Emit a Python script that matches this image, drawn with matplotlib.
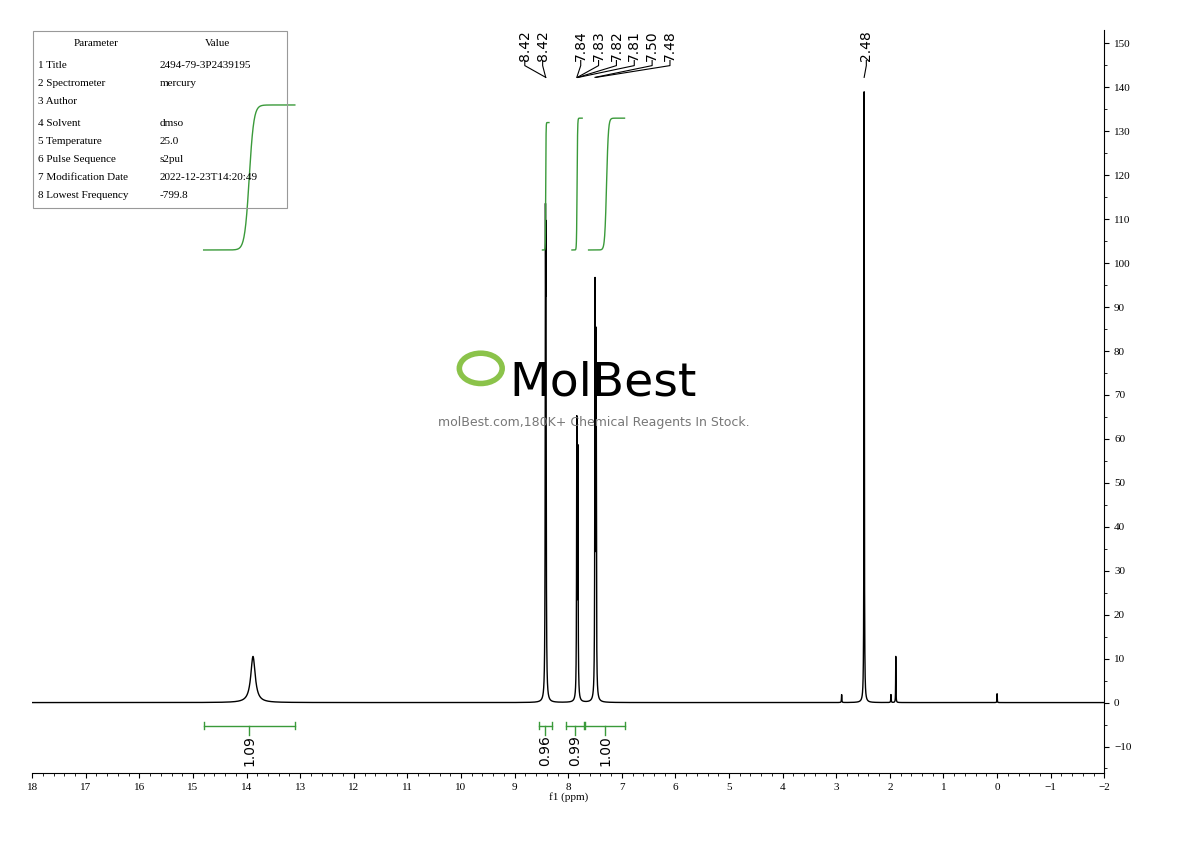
import matplotlib.pyplot as plt
import numpy as np

# peak list: position (ppm), height, half-width (ppm)
peak_pos = [13.88, 8.425, 8.415, 7.84, 7.82, 7.50, 7.48, 2.48, 1.89, 2.90, 1.98, 0.00]
peak_h = [10.5, 95, 90, 62, 55, 92, 80, 139, 10.5, 1.8, 1.8, 2.0]
peak_w = [0.05, 0.005, 0.005, 0.005, 0.005, 0.005, 0.005, 0.004, 0.003, 0.004, 0.004, 0.003]

top_labels = ["8.42", "8.42", "7.84", "7.83", "7.82", "7.81", "7.50", "7.48", "2.48"]
top_label_ppm = [8.42, 8.42, 7.84, 7.83, 7.82, 7.81, 7.50, 7.48, 2.48]

integ_ranges = [(14.8, 13.1), (8.55, 8.30), (8.05, 7.70), (7.68, 6.95)]
integ_vals = ["1.09", "0.96", "0.99", "1.00"]
integ_curve_ranges = [(14.8, 13.1), (8.48, 8.36), (7.93, 7.74), (7.62, 6.95)]
integ_curve_top = [136, 132, 133, 133]

params = [("1 Title", "2494-79-3P2439195"), ("2 Spectrometer", "mercury"), ("3 Author", ""),
          ("4 Solvent", "dmso"), ("5 Temperature", "25.0"), ("6 Pulse Sequence", "s2pul"),
          ("7 Modification Date", "2022-12-23T14:20:49"), ("8 Lowest Frequency", "-799.8")]

x = np.linspace(18, -2, 200000)
y = np.zeros_like(x)
for p, h, w in zip(peak_pos, peak_h, peak_w):
    y += h * w**2 / ((x - p)**2 + w**2)

fig = plt.figure(figsize=(11.9, 8.41), dpi=100)
ax = fig.add_axes([0.027, 0.081, 0.901, 0.883])
ax.plot(x, y, color="black", lw=1)
ax.set_xlim(18, -2)
ax.set_ylim(-16, 153)
ax.spines[["left", "top"]].set_visible(False)
ax.yaxis.tick_right()
ax.set_yticks(np.arange(-10, 151, 10))
ax.set_yticks(np.arange(-15, 153, 5), minor=True)
ax.set_xticks(np.arange(-2, 19, 1))
ax.set_xticks(np.arange(-2, 18.01, 0.2), minor=True)
ax.set_xticklabels([str(v).replace("-", "\u2212") for v in range(-2, 19)])
ax.tick_params(labelsize=8, direction="out")
for lab in ax.get_xticklabels() + ax.get_yticklabels():
    lab.set_family("Liberation Serif")
ax.set_xlabel("f1 (ppm)", fontsize=8, family="Liberation Serif", labelpad=0)

green = "#3a9a3a"
# integrals
for (a, b), v in zip(integ_ranges, integ_vals):
    ax.plot([a, b], [-5.3, -5.3], color=green, lw=1)
    ax.plot([a, a], [-4.5, -6.1], color=green, lw=1)
    ax.plot([b, b], [-4.5, -6.1], color=green, lw=1)
    m = (a + b) / 2
    ax.plot([m, m], [-5.3, -7.3], color=green, lw=1)
    ax.text(m, -7.5, v, rotation=90, ha="center", va="top", fontsize=10)
for (a, b), t in zip(integ_curve_ranges, integ_curve_top):
    xs = np.linspace(a, b, 200)
    c = (a + b) / 2
    s = (a - b) / 40
    ys = 103 + (t - 103) / (1 + np.exp((xs - c) / s))
    ax.plot(xs, ys, color=green, lw=1)

# peak labels
label_x = [0.441, 0.456, 0.488, 0.503, 0.518, 0.533, 0.548, 0.563, 0.728]
for lx, lab, ppm in zip(label_x, top_labels, top_label_ppm):
    fig.text(lx, 0.928, lab, rotation=90, ha="center", va="bottom", fontsize=10)
    xd = ax.transData.transform((ppm, 0))[0]
    xf = fig.transFigure.inverted().transform((xd, 0))[0]
    fig.add_artist(plt.Line2D([lx, lx, xf], [0.928, 0.922, 0.908], color="black", lw=0.8))

# parameter table
fig.add_artist(plt.Rectangle((0.028, 0.753), 0.213, 0.21, fill=False, ec="#999999", lw=0.8, transform=fig.transFigure))
fig.text(0.062, 0.945, "Parameter", fontsize=8, family="Liberation Serif")
fig.text(0.172, 0.945, "Value", fontsize=8, family="Liberation Serif")
for i, (k, v) in enumerate(params):
    yy = 0.919 - i * 0.0215 - (0.004 if i >= 3 else 0)
    fig.text(0.032, yy, k, fontsize=8, family="Liberation Serif")
    fig.text(0.134, yy, v, fontsize=8, family="Liberation Serif")

# watermark
fig.text(0.428, 0.53, "MolBest", fontsize=34, color="black", family="Liberation Sans Narrow")
fig.text(0.499, 0.494, "molBest.com,180K+ Chemical Reagents In Stock.", fontsize=9, color="#777777", ha="center")
fig.add_artist(plt.Circle((0.404, 0.562), 0.018, fill=False, ec="#8bc34a", lw=4, transform=fig.transFigure))

fig.savefig("out.png")
